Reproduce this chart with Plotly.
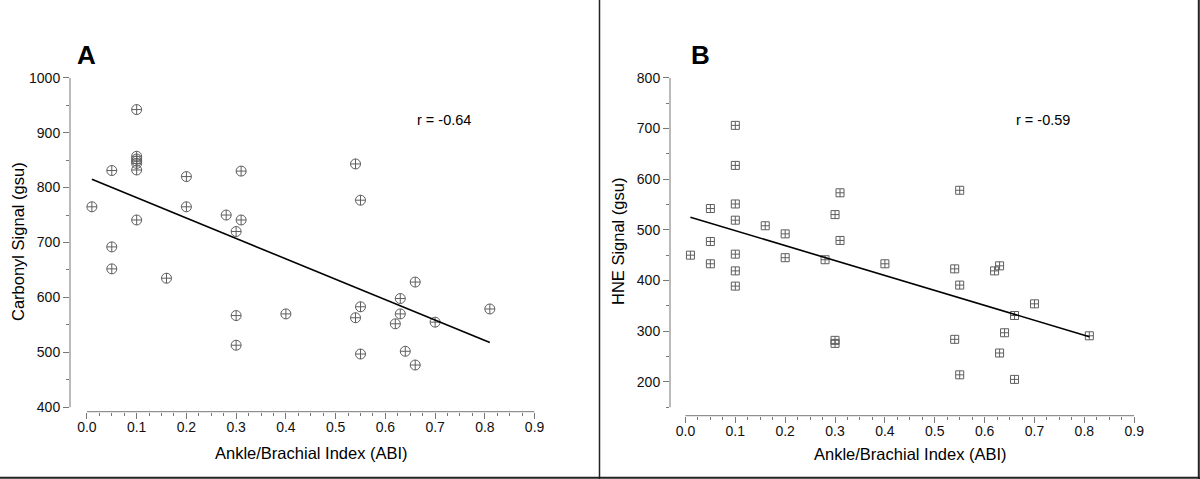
import numpy as np
import plotly.graph_objects as go

# ---------------- data ----------------
abi_a = [0.01, 0.05, 0.05, 0.05, 0.10, 0.10, 0.10, 0.10, 0.10, 0.10, 0.10,
         0.16, 0.20, 0.20, 0.28, 0.30, 0.30, 0.30, 0.31, 0.31, 0.40,
         0.54, 0.54, 0.55, 0.55, 0.55, 0.62, 0.63, 0.63, 0.64, 0.66, 0.66,
         0.70, 0.81]
carbonyl = [765, 831, 692, 652, 942, 857, 852, 848, 844, 832, 741,
            635, 820, 765, 750, 720, 567, 513, 830, 741, 570,
            843, 563, 777, 583, 497, 552, 598, 570, 502, 628, 477,
            555, 579]

abi_b = [0.01, 0.05, 0.05, 0.05, 0.10, 0.10, 0.10, 0.10, 0.10, 0.10, 0.10,
         0.16, 0.20, 0.20, 0.28, 0.30, 0.30, 0.30, 0.31, 0.31, 0.40,
         0.54, 0.54, 0.55, 0.55, 0.55, 0.62, 0.63, 0.63, 0.64, 0.66, 0.66,
         0.70, 0.81]
hne = [450, 542, 477, 433, 706, 627, 551, 519, 452, 419, 389,
       508, 492, 445, 441, 530, 282, 276, 573, 479, 433,
       423, 284, 578, 391, 214, 419, 429, 257, 297, 331, 205,
       354, 291]

r_a = "r = -0.64"
r_b = "r = -0.59"
x_ticks = [0.0, 0.1, 0.2, 0.3, 0.4, 0.5, 0.6, 0.7, 0.8, 0.9]
x_ticklabels = ["0.0", "0.1", "0.2", "0.3", "0.4", "0.5", "0.6", "0.7", "0.8", "0.9"]

# ---------------- figure ----------------
W, H = 1200, 479
FONT = "Liberation Sans, Arial, sans-serif"
AX = "#777777"
MK = "#5e5e5e"


def fit_line(x, y):
    k, b = np.polyfit(x, y, 1)
    xs = np.array([min(x), max(x)])
    return xs, k * xs + b


fig = go.Figure()

fxa, fya = fit_line(abi_a, carbonyl)
fxb, fyb = fit_line(abi_b, hne)

fig.add_trace(go.Scatter(x=abi_a, y=carbonyl, mode="markers", xaxis="x", yaxis="y",
                         marker=dict(symbol="circle-cross-open", size=10, color=MK,
                                     line=dict(width=1, color=MK)),
                         showlegend=False))
fig.add_trace(go.Scatter(x=fxa, y=fya, mode="lines", xaxis="x", yaxis="y",
                         line=dict(color="black", width=1.6), showlegend=False))
fig.add_trace(go.Scatter(x=abi_b, y=hne, mode="markers", xaxis="x2", yaxis="y2",
                         marker=dict(symbol="square-cross-open", size=8, color=MK,
                                     line=dict(width=1, color=MK)),
                         showlegend=False))
fig.add_trace(go.Scatter(x=fxb, y=fyb, mode="lines", xaxis="x2", yaxis="y2",
                         line=dict(color="black", width=1.6), showlegend=False))


def xaxis_cfg(domain, rng):
    return dict(domain=domain, range=rng, showgrid=False, zeroline=False, showline=False,
                automargin=False, ticklabelstandoff=-4,
                tickmode="array", tickvals=x_ticks, ticktext=x_ticklabels,
                ticks="outside", ticklen=6, tickwidth=1, tickcolor=AX,
                tickfont=dict(family=FONT, size=14, color="#111"),
                minor=dict(tickmode="array",
                           tickvals=[v for v in np.round(np.arange(0, 0.9001, 0.025), 3)
                                     if abs(v * 10 - round(v * 10)) > 1e-6],
                           ticks="outside", ticklen=3, tickwidth=1, tickcolor=AX,
                           showgrid=False),
                fixedrange=True)


def yaxis_cfg(domain, rng, anchor):
    return dict(domain=domain, range=rng, anchor=anchor, showgrid=False, zeroline=False,
                showline=False, dtick=100, tick0=0, automargin=False,
                ticks="outside", ticklen=6, tickwidth=1, tickcolor=AX,
                tickfont=dict(family=FONT, size=14, color="#111"),
                minor=dict(dtick=50, tick0=0, ticks="outside", ticklen=3, tickwidth=1,
                           tickcolor=AX, showgrid=False),
                fixedrange=True)


fig.update_layout(
    template="none",
    width=W, height=H, margin=dict(l=0, r=0, t=0, b=0, pad=0), autosize=False,
    paper_bgcolor="white", plot_bgcolor="white",
    xaxis=dict(xaxis_cfg([70 / W, 534.6 / W], [-0.034, 0.9]), anchor="y"),
    yaxis=yaxis_cfg([1 - 411.7 / H, 1 - 77.7 / H], [392, 1000], "x"),
    xaxis2=dict(xaxis_cfg([670 / W, 1134.2 / W], [-0.031, 0.9]), anchor="y2"),
    yaxis2=yaxis_cfg([1 - 415.7 / H, 1 - 77.7 / H], [133.4, 800], "x2"),
)

shapes = []
# detached axis lines
for xa, ya, y_lo, y_hi in [("x", "y", 400, 1000), ("x2", "y2", 150, 800)]:
    shapes.append(dict(type="line", xref=xa + " domain", yref=ya, x0=0, x1=0, y0=y_lo, y1=y_hi,
                       line=dict(color=AX, width=1)))
    shapes.append(dict(type="line", xref=xa, yref=ya + " domain", x0=0, x1=0.9, y0=0, y1=0,
                       line=dict(color=AX, width=1)))
# frame lines
shapes.append(dict(type="line", xref="paper", yref="paper", x0=599.5 / W, x1=599.5 / W, y0=0, y1=1,
                   line=dict(color="#222", width=1.5)))
shapes.append(dict(type="line", xref="paper", yref="paper", x0=0, x1=1, y0=1.2 / H, y1=1.2 / H,
                   line=dict(color="#222", width=2)))
shapes.append(dict(type="line", xref="paper", yref="paper", x0=1198.8 / W, x1=1198.8 / W, y0=0, y1=1,
                   line=dict(color="#222", width=2)))
fig.update_layout(shapes=shapes)

ann = []


def txt(x, y, t, size, bold=False, angle=0):
    ann.append(dict(x=x / W, y=1 - y / H, xref="paper", yref="paper", text=t, showarrow=False,
                    xanchor="center", yanchor="middle", textangle=angle,
                    font=dict(family=FONT, size=size, color="black",
                              weight="bold" if bold else "normal")))


txt(86, 55, "A", 26, bold=True)
txt(700, 55, "B", 26, bold=True)
txt(444, 120, r_a, 14.5)
txt(1043, 120, r_b, 14.5)
txt(311, 453, "Ankle/Brachial Index (ABI)", 16.5)
txt(910, 454, "Ankle/Brachial Index (ABI)", 16.5)
txt(18, 242, "Carbonyl Signal (gsu)", 16.5, angle=-90)
txt(618, 242, "HNE Signal (gsu)", 16.5, angle=-90)
fig.update_layout(annotations=ann)

fig.write_html("out.html", config={"displayModeBar": False},
               post_script="document.body.style.margin='0';document.body.style.overflow='hidden';")
